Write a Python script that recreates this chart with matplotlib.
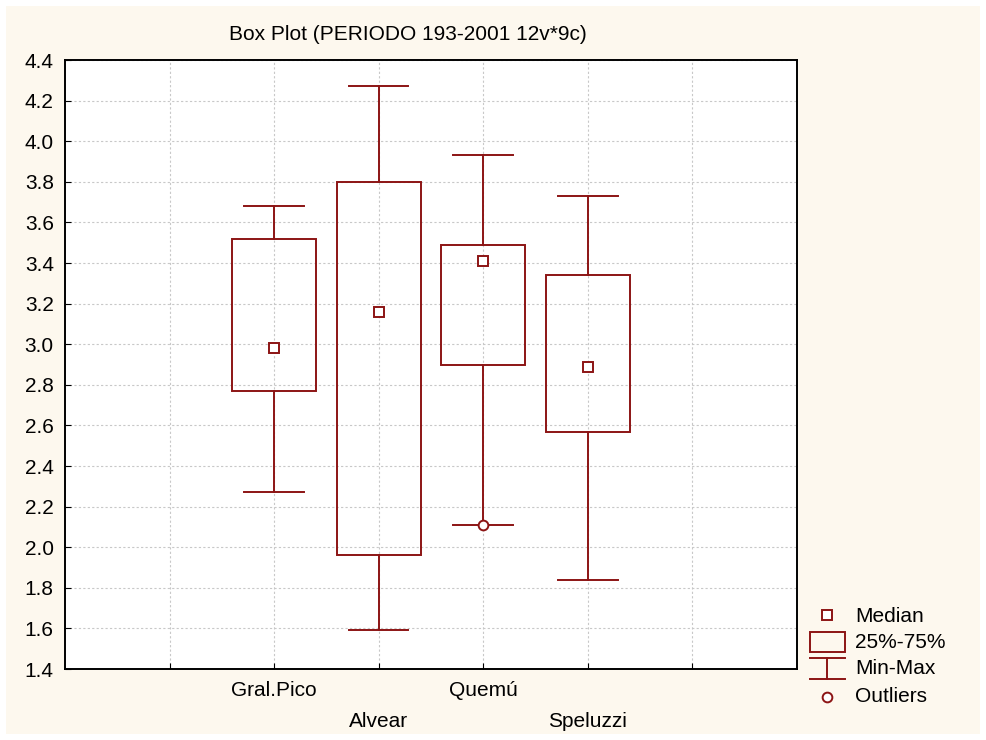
import matplotlib.pyplot as plt
from matplotlib.patches import Rectangle

plt.rcParams['font.family'] = ['Liberation Sans', 'DejaVu Sans']

# Data
categories = ['Gral.Pico', 'Alvear', 'Quemú', 'Speluzzi']
minimum = [2.27, 1.59, 2.11, 1.84]
q1 = [2.77, 1.96, 2.90, 2.57]
median = [2.98, 3.16, 3.41, 2.89]
q3 = [3.52, 3.80, 3.49, 3.34]
maximum = [3.68, 4.27, 3.93, 3.73]
outliers = [[], [], [2.11], []]

RED = '#8c1414'
BG = '#fdf8ee'
FS = 15


def draw_box(ax, x, lo, a, m, b, hi, outs):
    bw = 0.8
    cw = 0.57
    ax.add_patch(Rectangle((x - bw / 2, a), bw, b - a, fill=False,
                           edgecolor=RED, lw=1.4, zorder=3))
    ax.plot([x, x], [b, hi], color=RED, lw=1.4, zorder=3)
    ax.plot([x, x], [lo, a], color=RED, lw=1.4, zorder=3)
    ax.plot([x - cw / 2, x + cw / 2], [hi, hi], color=RED, lw=1.4, zorder=3)
    ax.plot([x - cw / 2, x + cw / 2], [lo, lo], color=RED, lw=1.4, zorder=3)
    ax.plot([x], [m], marker='s', ms=7, mfc='white', mec=RED, mew=1.4,
            zorder=4)
    for o in outs:
        ax.plot([x], [o], marker='o', ms=7, mfc='white', mec=RED, mew=1.4,
                zorder=4)


fig = plt.figure(figsize=(9.86, 7.40), dpi=100)
fig.patch.set_facecolor('white')
fig.patches.append(Rectangle((0.006, 0.008), 0.988, 0.984,
                             transform=fig.transFigure, facecolor=BG,
                             edgecolor='none', zorder=-10))

ax = fig.add_axes([0.0659, 0.0959, 0.7424, 0.823])
ax.set_facecolor('white')
ax.set_xlim(0, 7)
ax.set_ylim(1.4, 4.4)
ax.set_yticks([1.4 + 0.2 * i for i in range(16)])
ax.set_yticklabels([f'{1.4 + 0.2 * i:.1f}' for i in range(16)])
ax.set_xticks(range(1, 7))
ax.set_xticklabels([])
ax.grid(True, color='#c8c8c8', linestyle=(0, (2, 2)), lw=0.8)
ax.set_axisbelow(True)
ax.tick_params(direction='in', length=4, labelsize=FS, colors='black', pad=8)
for s in ax.spines.values():
    s.set_linewidth(1.4)

for i, name in enumerate(categories):
    x = i + 2
    y_off = -0.035 if i % 2 == 0 else -0.086
    draw_box(ax, x, minimum[i], q1[i], median[i], q3[i], maximum[i],
             outliers[i])
    ax.text(x, y_off, name, transform=ax.get_xaxis_transform(),
            ha='center', va='center', fontsize=FS)

fig.text(408 / 986, 1 - 35 / 740, 'Box Plot (PERIODO 193-2001 12v*9c)',
         ha='center', va='center', fontsize=FS)

# Legend drawn in figure pixel space
lg = fig.add_axes([0, 0, 1, 1], facecolor='none')
lg.set_xlim(0, 986)
lg.set_ylim(740, 0)
lg.axis('off')
lg.plot([827], [615], marker='s', ms=7, mfc='white', mec=RED, mew=1.4)
lg.add_patch(Rectangle((810, 632), 35, 20, fill=False, edgecolor=RED, lw=1.4))
lg.plot([810, 845], [658, 658], color=RED, lw=1.4)
lg.plot([810, 845], [679, 679], color=RED, lw=1.4)
lg.plot([827, 827], [658, 679], color=RED, lw=1.4)
lg.plot([827], [697], marker='o', ms=7, mfc='white', mec=RED, mew=1.4)
for y, t in zip([616, 643, 669, 697], ['Median', '25%-75%', 'Min-Max', 'Outliers']):
    lg.text(855, y, t, ha='left', va='center', fontsize=FS)

fig.savefig('out.png', dpi=100, facecolor='white')
